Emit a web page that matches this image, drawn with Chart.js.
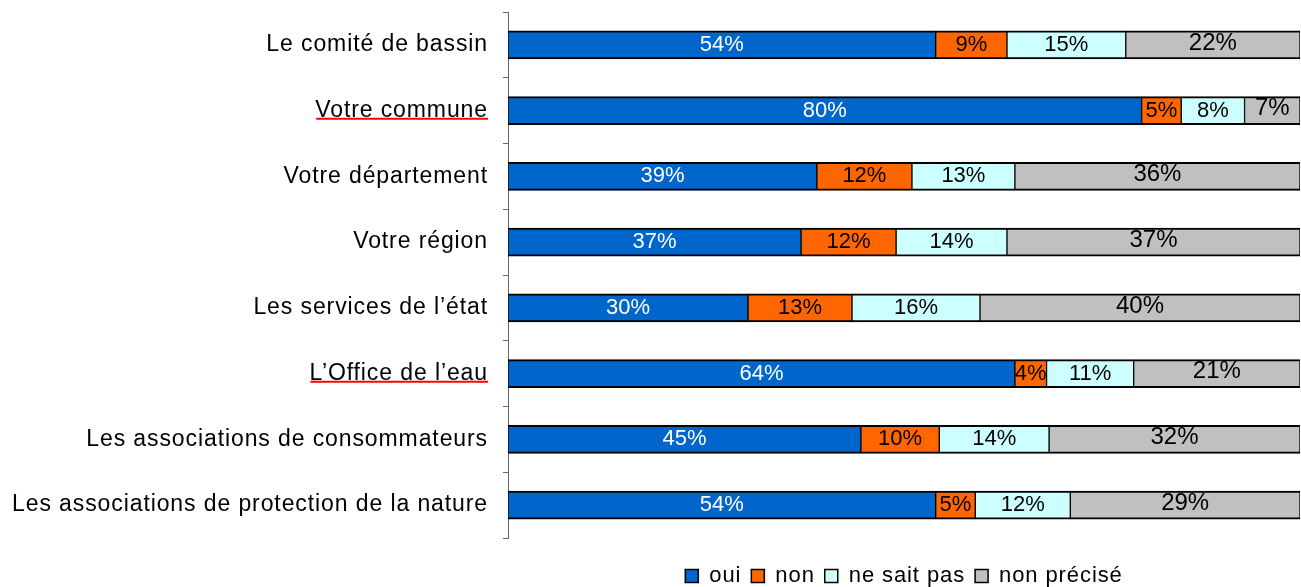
<!DOCTYPE html>
<html>
<head>
<meta charset="utf-8">
<script src="https://cdn.jsdelivr.net/npm/chart.js@4/dist/chart.umd.min.js"></script>
<style>
  html, body { margin: 0; padding: 0; background: #fff; }
  #wrap { width: 1301px; height: 587px; }
</style>
</head>
<body>
<div id="wrap"><canvas id="chart"></canvas></div>
<script>
const categories = [
  'Le comité de bassin',
  'Votre commune',
  'Votre département',
  'Votre région',
  'Les services de l’état',
  'L’Office de l’eau',
  'Les associations de consommateurs',
  'Les associations de protection de la nature'
];
const seriesNames = ['oui', 'non', 'ne sait pas', 'non précisé'];
const oui = [54, 80, 39, 37, 30, 64, 45, 54];
const non = [9, 5, 12, 12, 13, 4, 10, 5];
const neSaitPas = [15, 8, 13, 14, 16, 11, 14, 12];
const nonPrecise = [22, 7, 36, 37, 40, 21, 32, 29];
// labels flagged by the spell checker in the original
const underlined = ['Votre commune', 'L’Office de l’eau'];

const raw = [oui, non, neSaitPas, nonPrecise];
const colors = ['#0066CC', '#FF6600', '#CCFFFF', '#C0C0C0'];
const FONT = '"Liberation Sans", Arial, sans-serif';
const SPACING = '0.9px';

// 100% stacked: each row is scaled to its own total
const totals = categories.map((c, i) => raw.reduce((s, arr) => s + arr[i], 0));
const share = arr => arr.map((v, i) => v / totals[i] * 100);

const spacing = {
  id: 'spacing',
  beforeLayout(chart) { chart.ctx.letterSpacing = SPACING; },
  beforeDraw(chart) { chart.ctx.letterSpacing = SPACING; }
};

const valueLabels = {
  id: 'valueLabels',
  afterDatasetsDraw(chart) {
    const ctx = chart.ctx;
    ctx.save();
    ctx.letterSpacing = '0px';
    ctx.textAlign = 'center';
    ctx.textBaseline = 'middle';
    chart.data.datasets.forEach((ds, d) => {
      const last = d === raw.length - 1;
      ctx.font = (last ? '24px ' : '22px ') + FONT;
      ctx.fillStyle = d === 0 ? '#ffffff' : '#000000';
      chart.getDatasetMeta(d).data.forEach((bar, i) => {
        ctx.fillText(raw[d][i] + '%', (bar.x + bar.base) / 2, bar.y + (last ? -2 : 0));
      });
    });
    ctx.restore();
  }
};

const redUnderline = {
  id: 'redUnderline',
  afterDraw(chart) {
    const ctx = chart.ctx;
    const y = chart.scales.y;
    const right = y.right - 5 - 15;
    ctx.save();
    ctx.letterSpacing = SPACING;
    ctx.font = '23px ' + FONT;
    ctx.strokeStyle = '#ff0000';
    ctx.lineWidth = 2;
    underlined.forEach(label => {
      const i = categories.indexOf(label);
      const w = ctx.measureText(label).width;
      const py = y.getPixelForValue(i) + 8;
      ctx.beginPath();
      ctx.moveTo(right - w + 1, py);
      ctx.lineTo(right, py);
      ctx.stroke();
    });
    ctx.restore();
  }
};

new Chart(document.getElementById('chart'), {
  type: 'bar',
  data: {
    labels: categories,
    datasets: raw.map((arr, d) => ({
      label: seriesNames[d],
      data: share(arr),
      backgroundColor: colors[d],
      borderColor: '#000000',
      borderWidth: { top: 2, bottom: 2, left: 1, right: 1 },
      borderSkipped: false,
      barThickness: 28
    }))
  },
  options: {
    indexAxis: 'y',
    responsive: true,
    maintainAspectRatio: false,
    animation: false,
    layout: { padding: { top: 12, right: 1, left: 0, bottom: -10 } },
    scales: {
      x: { stacked: true, min: 0, max: 100, display: false },
      y: {
        stacked: true,
        afterFit(scale) {
          scale.width = 508;
          scale.paddingTop = 0;
          scale.paddingBottom = 0;
        },
        grid: { drawOnChartArea: false, tickLength: 5, color: '#666666', offset: true },
        border: { color: '#666666', width: 1 },
        ticks: {
          color: '#000000',
          padding: 15,
          font: { family: FONT, size: 23 }
        }
      }
    },
    plugins: {
      tooltip: { enabled: false },
      legend: {
        position: 'bottom',
        fullSize: false,
        title: { display: true, text: ' ', font: { size: 1, lineHeight: 1 }, padding: { top: 16, bottom: 0 } },
        labels: {
          color: '#000000',
          boxWidth: 13,
          boxHeight: 13,
          padding: 10,
          font: { family: FONT, size: 22 }
        }
      }
    }
  },
  plugins: [spacing, valueLabels, redUnderline]
});
</script>
</body>
</html>
